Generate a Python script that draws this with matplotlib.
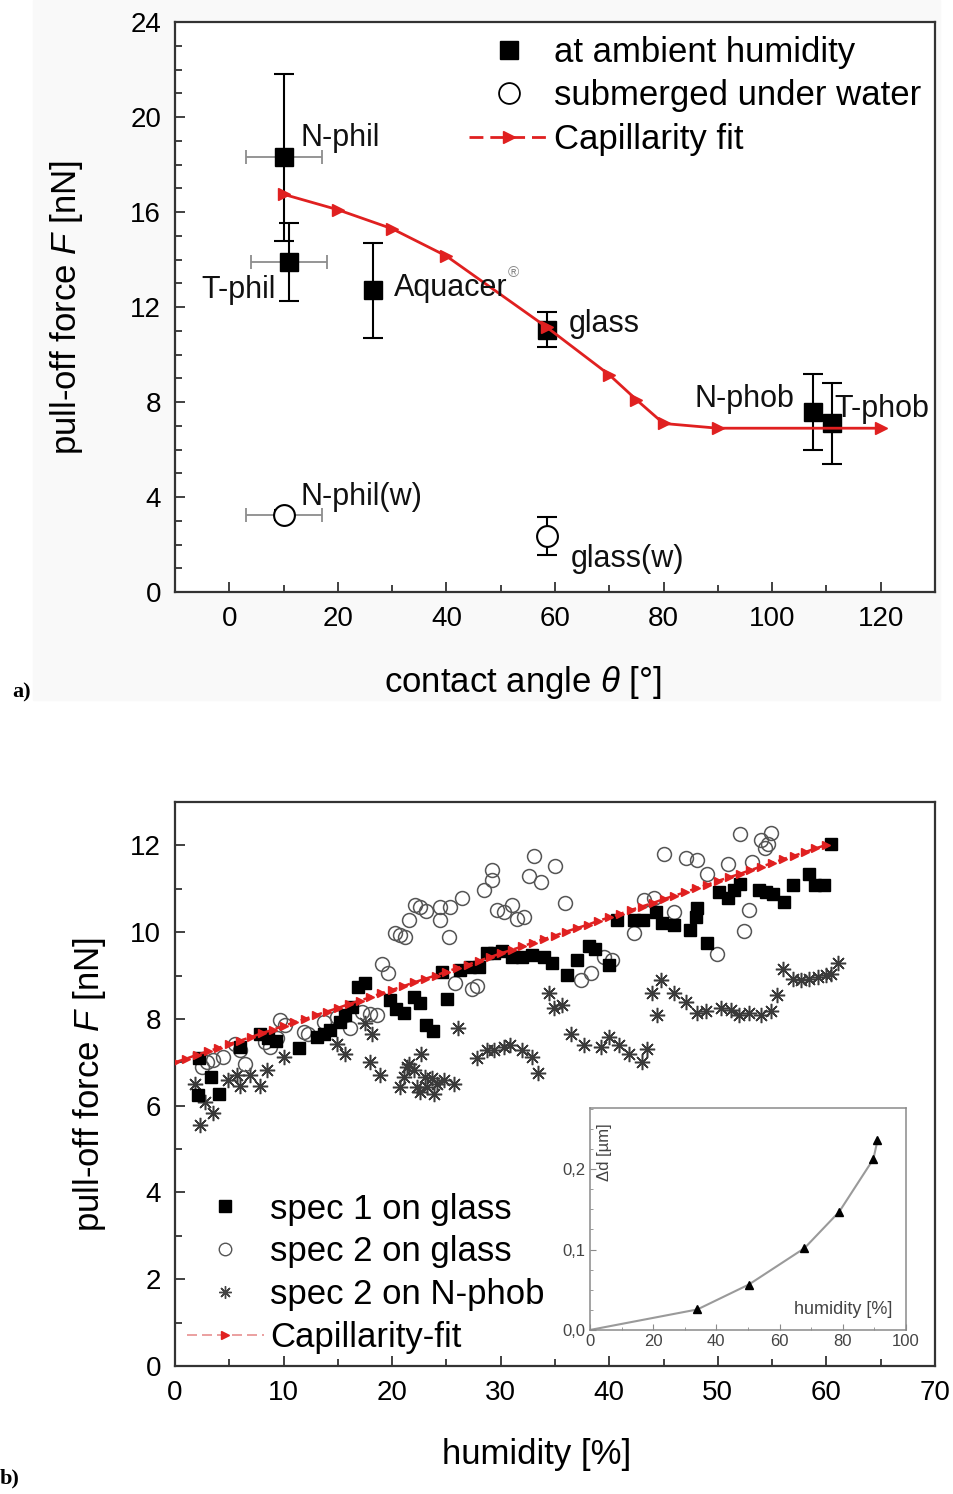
import matplotlib.pyplot as plt
from matplotlib.lines import Line2D
from matplotlib.patches import Rectangle
from matplotlib.ticker import MultipleLocator

plt.rcParams['font.family'] = ['Liberation Sans', 'DejaVu Sans']
plt.rcParams['mathtext.fontset'] = 'custom'
plt.rcParams['mathtext.rm'] = 'Liberation Sans'
plt.rcParams['mathtext.it'] = 'Liberation Sans:italic'

# ---- panel a) data ----
amb_names = ['N-phil', 'T-phil', 'Aquacer', 'glass', 'N-phob', 'T-phob']
amb_angle = [10, 11, 26.5, 58.5, 107.5, 111]
amb_force = [18.3, 13.9, 12.7, 11.05, 7.6, 7.1]
amb_err = [3.5, 1.65, 2.0, 0.75, 1.6, 1.7]
amb_xerr = [7, 7, 0, 0, 0, 0]

wet_names = ['N-phil(w)', 'glass(w)']
wet_angle = [10, 58.5]
wet_force = [3.25, 2.35]
wet_err = [0.2, 0.8]
wet_xerr = [7, 0]

fit_angle = [10, 20, 30, 40, 58.5, 70, 75, 80, 90, 120]
fit_force = [16.75, 16.1, 15.3, 14.15, 11.15, 9.15, 8.1, 7.1, 6.9, 6.9]

# ---- panel b) data ----
spec1_x = [2.1, 4.1, 3.3, 2.2, 6.0, 7.8, 8.6, 9.3, 11.4, 13.1, 13.7, 14.3, 15.2, 15.7,
           16.3, 16.9, 17.5, 19.8, 20.4, 21.1, 22.0, 22.6, 23.1, 23.8, 25.1, 24.6,
           26.3, 27.2, 28.0, 28.75, 29.4, 30.1, 31.05, 32.0, 32.9, 34.0, 34.7,
           36.1, 37.05, 38.1, 38.7, 40.0, 40.7, 42.3, 43.1, 44.3, 44.9, 46.0, 47.4,
           48.0, 48.1, 49.05, 50.1, 50.9, 51.5, 52.0, 53.8, 54.4, 55.05, 56.1, 56.9,
           58.4, 59.0, 59.8, 60.4]
spec1_y = [6.24, 6.26, 6.66, 7.1, 7.35, 7.66, 7.55, 7.5, 7.32, 7.59, 7.66, 7.74, 7.93, 8.08,
           8.28, 8.74, 8.83, 8.43, 8.22, 8.14, 8.51, 8.36, 7.86, 7.73, 8.47, 9.09,
           9.12, 9.2, 9.2, 9.51, 9.51, 9.57, 9.43, 9.43, 9.47, 9.43, 9.29,
           9.01, 9.35, 9.68, 9.62, 9.24, 10.28, 10.28, 10.28, 10.47, 10.2, 10.16, 10.05,
           10.35, 10.55, 9.74, 10.93, 10.78, 10.97, 11.12, 10.97, 10.93, 10.88, 10.7, 11.08,
           11.35, 11.08, 11.08, 12.04]

spec2_x = [2.46, 2.92, 3.54, 4.46, 5.5, 6.0, 6.46, 8.3, 8.76, 9.38, 9.69, 10.15, 11.84,
           12.3, 13.69, 14.92, 16.14, 17.22, 17.99, 18.6, 19.06, 19.58, 20.29, 20.75,
           21.21, 21.52, 22.14, 22.6, 23.15, 24.38, 24.38, 25.37, 25.21, 26.44, 28.44,
           29.21, 29.21, 29.67, 30.35, 31.05, 31.52, 32.13, 32.59, 33.05, 33.73, 34.96,
           35.97, 25.83, 27.36, 27.83, 37.36, 38.28, 39.51, 40.28, 42.28, 43.2, 44.13,
           45.0, 45.98, 47.05, 48.13, 48.99, 49.91, 50.96, 52.06, 52.43, 52.89, 53.14,
           53.97, 54.34, 54.59, 54.89]
spec2_y = [6.89, 7.01, 7.06, 7.12, 7.43, 7.28, 6.97, 7.47, 7.35, 7.55, 7.97, 7.85, 7.7,
           7.66, 7.93, 8.05, 7.78, 8.16, 8.12, 8.08, 9.26, 9.06, 9.97, 9.93,
           9.88, 10.28, 10.62, 10.57, 10.49, 10.57, 10.28, 10.57, 9.88, 10.78, 10.97,
           11.21, 11.44, 10.52, 10.47, 10.62, 10.31, 10.35, 11.29, 11.75, 11.16, 11.52,
           10.66, 8.82, 8.7, 8.76, 8.89, 9.05, 9.43, 9.35, 9.97, 10.75, 10.78,
           11.81, 10.47, 11.72, 11.66, 11.35, 9.49, 11.58, 12.26, 10.02, 10.51, 11.62,
           12.12, 11.93, 12.04, 12.29]

nphob_x = [1.85, 2.31, 2.77, 3.54, 4.92, 5.69, 5.99, 6.92, 7.84, 8.46, 10.0, 14.91, 15.68,
           17.52, 18.14, 17.99, 18.91, 20.75, 21.06, 21.37, 21.52, 21.99, 22.29, 22.6,
           22.7, 23.06, 23.21, 23.67, 23.83, 24.14, 24.76, 25.67, 26.05, 27.83, 28.75,
           29.36, 30.29, 30.9, 31.98, 32.9, 33.4, 34.44, 34.9, 35.67, 36.44, 37.67,
           39.2, 39.97, 40.9, 41.82, 43.05, 43.45, 43.98, 44.44, 44.74, 45.97, 47.05,
           48.13, 48.9, 50.28, 51.2, 51.97, 52.89, 53.97, 54.89, 55.45, 55.97, 56.89,
           57.66, 58.43, 59.2, 59.97, 60.43, 61.04]
nphob_y = [6.51, 5.55, 6.09, 5.82, 6.59, 6.7, 6.45, 6.7, 6.45, 6.82, 7.12, 7.43, 7.2,
           7.9, 7.66, 7.01, 6.7, 6.42, 6.66, 6.9, 6.97, 6.82, 6.43, 6.32,
           7.2, 6.67, 6.44, 6.63, 6.28, 6.51, 6.59, 6.51, 7.78, 7.09, 7.28,
           7.28, 7.36, 7.4, 7.28, 7.13, 6.76, 8.6, 8.24, 8.32, 7.66, 7.4,
           7.36, 7.59, 7.4, 7.2, 7.01, 7.3, 8.59, 8.09, 8.89, 8.59, 8.39,
           8.14, 8.19, 8.24, 8.2, 8.09, 8.14, 8.09, 8.19, 8.55, 9.16, 8.91,
           8.89, 8.93, 8.97, 9.01, 9.03, 9.29]

fitb_x = list(range(0, 61))
fitb_y = [7.00, 7.08, 7.17, 7.25, 7.33, 7.42, 7.50, 7.58, 7.67, 7.75, 7.84, 7.92, 8.00,
          8.09, 8.17, 8.25, 8.34, 8.42, 8.50, 8.59, 8.67, 8.75, 8.84, 8.92, 9.00, 9.09,
          9.17, 9.25, 9.34, 9.42, 9.51, 9.59, 9.67, 9.76, 9.84, 9.92, 10.01, 10.09,
          10.17, 10.26, 10.34, 10.42, 10.51, 10.59, 10.67, 10.76, 10.84, 10.92, 11.01,
          11.09, 11.18, 11.26, 11.34, 11.43, 11.51, 11.59, 11.68, 11.76, 11.84, 11.93,
          12.01]

# inset: swelling vs humidity
inset_hum = [0, 34, 50.3, 67.9, 78.9, 89.7, 91.0]
inset_dd = [0.0, 0.0255, 0.0565, 0.1017, 0.147, 0.2125, 0.2356]

red = '#e02020'
frame = '#333333'

fig = plt.figure(figsize=(9.54, 14.94), dpi=100)
fig.patches.append(Rectangle((33 / 954, 1 - 700 / 1494), 907 / 954, 700 / 1494,
                             transform=fig.transFigure, color='#f9f9f9', zorder=-5))

ax1 = fig.add_axes([0.1834, 0.6037, 0.7966, 0.3815])
ax2 = fig.add_axes([0.1834, 0.0857, 0.7966, 0.3775])
ax3 = fig.add_axes([0.6184, 0.1098, 0.3312, 0.1486])

for ax in (ax1, ax2):
    for s in ax.spines.values():
        s.set_color(frame)
        s.set_linewidth(1.6)
    ax.tick_params(which='both', direction='in', top=False, right=False,
                   labelsize=20, pad=10, color=frame, width=1.3)
    ax.tick_params(which='major', length=7)
    ax.tick_params(which='minor', length=5)

# ---- panel a ----
ax1.errorbar(amb_angle, amb_force, xerr=amb_xerr, fmt='none', ecolor='#8c8c8c',
             elinewidth=1.3, capsize=5, capthick=1.3, zorder=2)
ax1.errorbar(wet_angle, wet_force, xerr=wet_xerr, fmt='none', ecolor='#8c8c8c',
             elinewidth=1.3, capsize=5, capthick=1.3, zorder=2)
ax1.errorbar(amb_angle, amb_force, yerr=amb_err, fmt='s', color='black', ms=13,
             elinewidth=1.5, capsize=7, capthick=1.5, zorder=3)
ax1.errorbar(wet_angle, wet_force, yerr=wet_err, fmt='o', color='black', mfc='white',
             ms=15, mew=1.5, elinewidth=1.5, capsize=7, capthick=1.5, zorder=3)
ax1.plot(fit_angle, fit_force, color=red, lw=2, marker='>', ms=9, zorder=4)

label_pos = {'N-phil': (13.1, 19.1, 'left'), 'T-phil': (8.5, 12.7, 'right'),
             'Aquacer': (30.3, 12.8, 'left'), 'glass': (62.5, 11.3, 'left'),
             'N-phob': (85.8, 8.15, 'left'), 'T-phob': (111.5, 7.7, 'left'),
             'N-phil(w)': (13.1, 4.0, 'left'), 'glass(w)': (62.9, 1.4, 'left')}
for name in amb_names + wet_names:
    lx, ly, ha = label_pos[name]
    ax1.text(lx, ly, name, fontsize=22, ha=ha, va='center', color='#111111', zorder=5)
ax1.text(52.3, 13.45, '®', fontsize=11, color='#888888', ha='center', va='center')

ax1.set_xlim(-10, 130)
ax1.set_ylim(0, 24)
ax1.xaxis.set_major_locator(MultipleLocator(20))
ax1.xaxis.set_minor_locator(MultipleLocator(10))
ax1.yaxis.set_major_locator(MultipleLocator(4))
ax1.yaxis.set_minor_locator(MultipleLocator(1))
ax1.set_xlabel(r'contact angle $\theta$ [°]', fontsize=25)
ax1.set_ylabel(r'pull-off force $F$ [nN]', fontsize=25)
ax1.xaxis.set_label_coords(0.458, -0.126)
ax1.yaxis.set_label_coords(-0.118, 0.5)

h1 = [Line2D([], [], ls='none', marker='s', color='black', ms=13),
      Line2D([], [], ls='none', marker='o', mfc='white', mec='black', ms=15, mew=1.3),
      Line2D([], [], ls=(0, (5, 2.5)), color=red, lw=2, marker='>', ms=9)]
ax1.legend(h1, ['at ambient humidity', 'submerged under water', 'Capillarity fit'],
           loc='upper right', frameon=False, fontsize=25, handlelength=2.3,
           handletextpad=0.15, labelspacing=0.3, borderaxespad=0.2,
           borderpad=0.2)

# ---- panel b ----
ax2.plot(nphob_x, nphob_y, ls='none', marker=(8, 2, 0), ms=11, mew=1.1,
         color='#3a3a3a', zorder=2)
ax2.plot(spec2_x, spec2_y, ls='none', marker='o', ms=10, mfc='none',
         mec='#555555', mew=1.1, zorder=3)
ax2.plot(spec1_x, spec1_y, ls='none', marker='s', ms=9, color='black', zorder=4)
ax2.plot(fitb_x, fitb_y, ls='--', lw=1.8, color=red, marker='>', ms=6, zorder=5)

ax2.set_xlim(0, 70)
ax2.set_ylim(0, 13)
ax2.xaxis.set_major_locator(MultipleLocator(10))
ax2.xaxis.set_minor_locator(MultipleLocator(5))
ax2.yaxis.set_major_locator(MultipleLocator(2))
ax2.yaxis.set_minor_locator(MultipleLocator(1))
ax2.set_xlabel('humidity [%]', fontsize=25)
ax2.set_ylabel(r'pull-off force $F$ [nN]', fontsize=25)
ax2.xaxis.set_label_coords(0.476, -0.128)
ax2.yaxis.set_label_coords(-0.088, 0.5)

h2 = [Line2D([], [], ls='none', marker='s', color='black', ms=8),
      Line2D([], [], ls='none', marker='o', mfc='none', mec='#555555', ms=9, mew=1),
      Line2D([], [], ls='none', marker=(8, 2, 0), color='#444444', ms=9, mew=1),
      Line2D([], [], ls=(0, (6, 3)), color='#e89090', lw=1.2, marker='>', ms=6,
             mfc=red, mec=red)]
ax2.legend(h2, ['spec 1 on glass', 'spec 2 on glass', 'spec 2 on N-phob',
                'Capillarity-fit'],
           loc='lower left', frameon=False, fontsize=25, handlelength=2.2,
           handletextpad=0.2, labelspacing=0.28, borderaxespad=0.15, borderpad=0.2)

# ---- inset ----
ax3.plot(inset_hum, inset_dd, color='#9a9a9a', lw=1.5, zorder=2)
ax3.plot(inset_hum[1:], inset_dd[1:], ls='none', marker='^', ms=6, color='black', zorder=3)
ax3.set_xlim(0, 100)
ax3.set_ylim(0, 0.276)
ax3.set_xticks([0, 20, 40, 60, 80, 100])
ax3.set_yticks([0, 0.1, 0.2])
ax3.set_yticklabels(['0,0', '0,1', '0,2'])
ax3.xaxis.set_minor_locator(MultipleLocator(10))
ax3.yaxis.set_minor_locator(MultipleLocator(0.025))
for s in ax3.spines.values():
    s.set_color('#8a8a8a')
    s.set_linewidth(1.1)
ax3.tick_params(which='both', direction='in', labelsize=12, labelcolor='#444444',
                color='#8a8a8a', pad=3)
ax3.tick_params(which='major', length=4)
ax3.tick_params(which='minor', length=2)
ax3.text(0.047, 0.80, 'Δd [µm]', rotation=90, transform=ax3.transAxes, fontsize=12,
         color='#444444', ha='center', va='center')
ax3.text(0.80, 0.09, 'humidity [%]', transform=ax3.transAxes, fontsize=13,
         color='#444444', ha='center', va='center')

fig.text(22 / 954, 1 - 692 / 1494, 'a)', fontsize=16, fontweight='bold',
         family='Liberation Serif', ha='center', va='center')
fig.text(10 / 954, 1 - 1478 / 1494, 'b)', fontsize=16, fontweight='bold',
         family='Liberation Serif', ha='center', va='center')

fig.savefig('out.png', dpi=100)
